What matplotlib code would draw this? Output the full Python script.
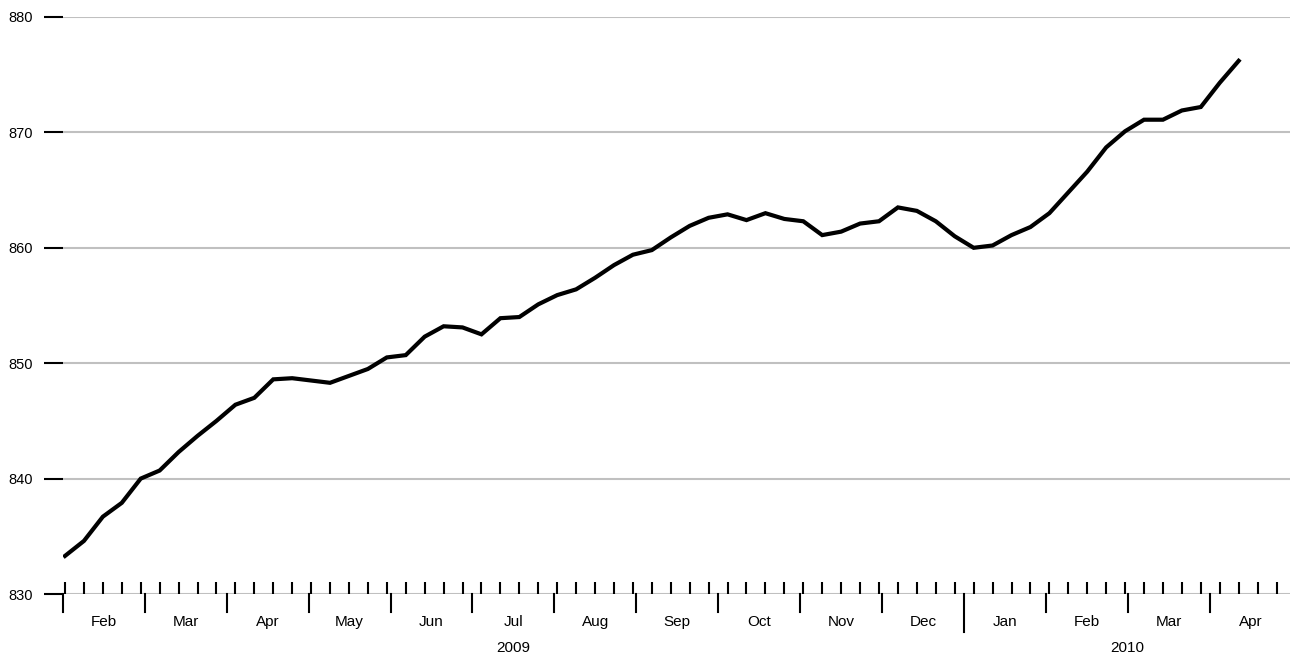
import matplotlib
matplotlib.use('Agg')
import matplotlib.pyplot as plt
import matplotlib.transforms as mtransforms

plt.rcParams['font.family'] = ['Liberation Sans', 'DejaVu Sans']

# weekly values, early Feb 2009 .. late Apr 2010
values = [833.3, 834.6, 836.7, 837.9, 840.0, 840.7, 842.3, 843.7, 845.0, 846.4,
          847.0, 848.6, 848.7, 848.5, 848.3, 848.9, 849.5, 850.5, 850.7, 852.3,
          853.2, 853.1, 852.5, 853.9, 854.0, 855.1, 855.9, 856.4, 857.4, 858.5,
          859.4, 859.8, 860.9, 861.9, 862.6, 862.9, 862.4, 863.0, 862.5, 862.3,
          861.1, 861.4, 862.1, 862.3, 863.5, 863.2, 862.3, 861.0, 860.0, 860.2,
          861.1, 861.8, 863.0, 864.8, 866.6, 868.7, 870.1, 871.1, 871.1, 871.9,
          872.2, 874.3, 876.2]
months = ['Feb', 'Mar', 'Apr', 'May', 'Jun', 'Jul', 'Aug', 'Sep', 'Oct', 'Nov',
          'Dec', 'Jan', 'Feb', 'Mar', 'Apr']
years = [('2009', 0, 11), ('2010', 11, 15)]
y_ticks = [830, 840, 850, 860, 870, 880]

W, H = 1290, 658
fig = plt.figure(figsize=(W / 100, H / 100), dpi=100)
ax = fig.add_axes([63 / W, 1 - 594 / H, 1 - 63 / W, (594 - 17) / H])

wk_per_month = 81.9 / 18.93
x0 = -0.106
ax.set_xlim(x0, x0 + (W - 63) / 18.93)
ax.set_ylim(830, 880)

ax.plot(range(len(values)), values, color='black', lw=3, solid_joinstyle='miter', zorder=3)

for s in ax.spines.values():
    s.set_visible(False)
for v in y_ticks:
    ax.axhline(v, color='#c0c0c0', lw=1.5, zorder=1)

ax.set_yticks(y_ticks)
ax.tick_params(axis='y', length=14, width=1.5, pad=8, labelsize=10.5, color='black')
ax.set_xticks(range(65))
ax.tick_params(axis='x', direction='in', length=9, width=1.5, labelbottom=False, color='black')

tr = mtransforms.blended_transform_factory(ax.transData, ax.transAxes)
ax_h = 594 - 17
for k in range(len(months) + 1):
    xb = x0 + k * wk_per_month
    ln = 38 if k == 11 else 18
    ax.plot([xb, xb], [0, -ln / ax_h], color='black', lw=1.5, transform=tr, clip_on=False)
for k, m in enumerate(months):
    xc = x0 + (k + 0.5) * wk_per_month
    ax.text(xc, -28 / ax_h, m, transform=tr, ha='center', va='center', fontsize=11)
for name, a, b in years:
    xc = x0 + (a + b) / 2 * wk_per_month
    ax.text(xc, -54 / ax_h, name, transform=tr, ha='center', va='center', fontsize=11)

fig.savefig('out.png', dpi=100)
